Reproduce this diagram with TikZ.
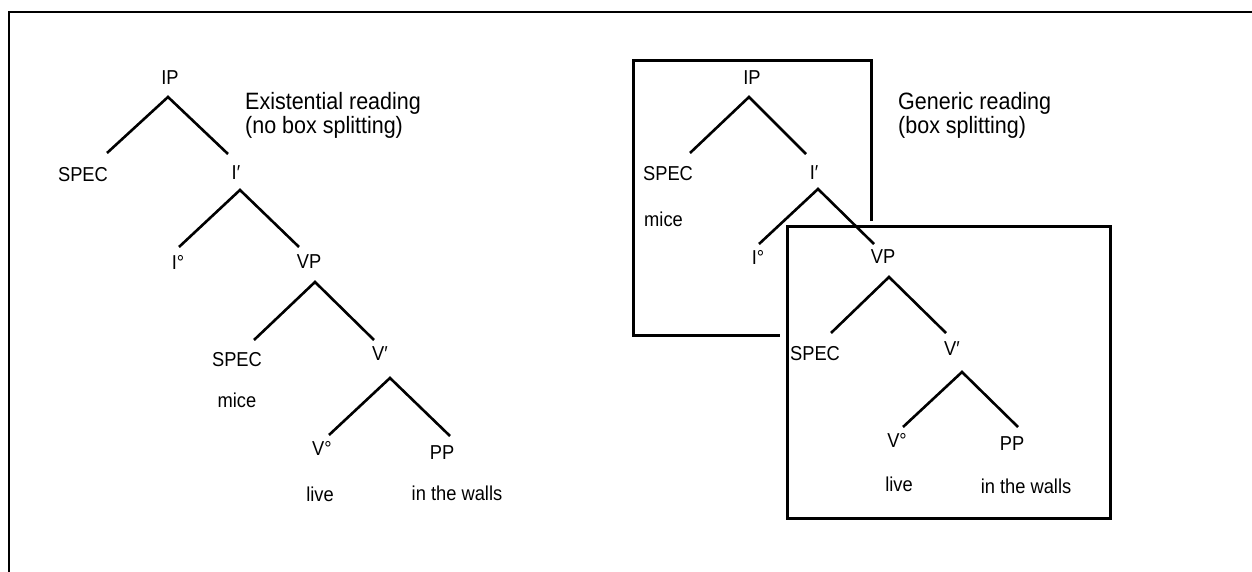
\documentclass[tikz,border=0pt]{standalone}
\usepackage{graphicx}
\usepackage{fontspec}
\setmainfont{Liberation Sans}
\newcommand\vstr[1]{\scalebox{1}[1.1]{#1}}
\tikzset{
  lab/.style={inner sep=0pt, font=\fontsize{18.3}{20}\selectfont},
  head/.style={inner sep=0pt, anchor=north west, font=\fontsize{21.5}{24}\selectfont},
  br/.style={line width=2.6pt},
  boxln/.style={line width=3pt},
  frameln/.style={line width=2.4pt}
}
\begin{document}
\begin{tikzpicture}[x=1pt,y=-1pt]
\useasboundingbox (0,0) rectangle (1252,572);
% outer frame (open to right and bottom)
\coordinate (fA) at (9,572);
\coordinate (fB) at (9,12);
\coordinate (fC) at (1252,12);
\draw[frameln] (fA) -- (fB) -- (fC);

% ---------- left tree ----------
\node[lab] (L-IP) at (170,78) {\vstr{IP}};
\node[lab] (L-SPEC1) at (83,175) {\vstr{SPEC}};
\node[lab] (L-Ib) at (236,173) {\vstr{I′}};
\node[lab] (L-I0) at (178,262) {\vstr{I°}};
\node[lab] (L-VP) at (309,262) {\vstr{VP}};
\node[lab] (L-SPEC2) at (237,360) {\vstr{SPEC}};
\node[lab] (L-mice) at (237,400) {\vstr{mice}};
\node[lab] (L-Vb) at (380,354) {\vstr{V′}};
\node[lab] (L-V0) at (322,448) {\vstr{V°}};
\node[lab] (L-PP) at (442,453) {\vstr{PP}};
\node[lab] (L-live) at (320,494) {\vstr{live}};
\node[lab] (L-walls) at (457,493) {\vstr{in the walls}};
\node[head] (L-head) at (245,91) {\vstr{\begin{tabular}{@{}l@{}}Existential reading\\[-2pt](no box splitting)\end{tabular}}};

\coordinate (L-a1) at (168,97);  \coordinate (L-l1) at (107,153); \coordinate (L-r1) at (228,154);
\coordinate (L-a2) at (240,190); \coordinate (L-l2) at (179,247); \coordinate (L-r2) at (299,247);
\coordinate (L-a3) at (315,282); \coordinate (L-l3) at (254,340); \coordinate (L-r3) at (374,340);
\coordinate (L-a4) at (390,378); \coordinate (L-l4) at (329,435); \coordinate (L-r4) at (450,436);
\draw[br] (L-l1) -- (L-a1) -- (L-r1);
\draw[br] (L-l2) -- (L-a2) -- (L-r2);
\draw[br] (L-l3) -- (L-a3) -- (L-r3);
\draw[br] (L-l4) -- (L-a4) -- (L-r4);

% ---------- right tree ----------
\node[lab] (R-IP) at (752,78) {\vstr{IP}};
\node[lab] (R-SPEC1) at (668,174) {\vstr{SPEC}};
\node[lab] (R-Ib) at (814,173) {\vstr{I′}};
\node[lab, anchor=west] (R-mice) at (644,219) {\vstr{mice}};
\node[lab] (R-I0) at (758,257) {\vstr{I°}};
\node[lab] (R-VP) at (883,257) {\vstr{VP}};
\node[lab] (R-SPEC2) at (815,354) {\vstr{SPEC}};
\node[lab] (R-Vb) at (952,349) {\vstr{V′}};
\node[lab] (R-V0) at (897,440) {\vstr{V°}};
\node[lab] (R-PP) at (1012,444) {\vstr{PP}};
\node[lab] (R-live) at (899,484) {\vstr{live}};
\node[lab] (R-walls) at (1026,486) {\vstr{in the walls}};
\node[head] (R-head) at (898,91) {\vstr{\begin{tabular}{@{}l@{}}Generic reading\\[-2pt](box splitting)\end{tabular}}};

\coordinate (R-a1) at (749,97);  \coordinate (R-l1) at (690,153); \coordinate (R-r1) at (806,154);
\coordinate (R-a2) at (818,189); \coordinate (R-l2) at (759,244); \coordinate (R-r2) at (874,244);
\coordinate (R-a3) at (889,277); \coordinate (R-l3) at (831,333); \coordinate (R-r3) at (946,333);
\coordinate (R-a4) at (962,372); \coordinate (R-l4) at (903,427); \coordinate (R-r4) at (1018,427);
\draw[br] (R-l1) -- (R-a1) -- (R-r1);
\draw[br] (R-l2) -- (R-a2) -- (R-r2);
\draw[br] (R-l3) -- (R-a3) -- (R-r3);
\draw[br] (R-l4) -- (R-a4) -- (R-r4);

% boxes
\coordinate (ub1) at (871,221); \coordinate (ub2) at (871,61);
\coordinate (ub3) at (633,61);  \coordinate (ub4) at (633,335);
\coordinate (ub5) at (780,335);
\draw[boxln] (ub1) -- (ub2) -- (ub3) -- (ub4) -- (ub5);
\coordinate (lb1) at (787,226); \coordinate (lb2) at (1110,518);
\draw[boxln] (lb1) rectangle (lb2);
\end{tikzpicture}
\end{document}
